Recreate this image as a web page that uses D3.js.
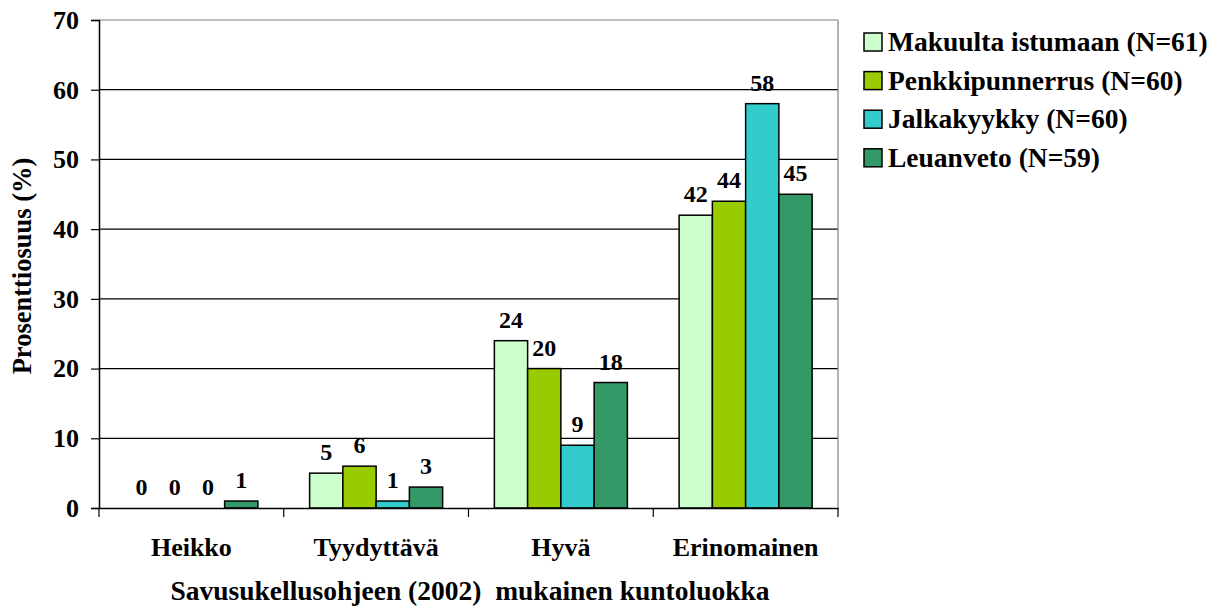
<!DOCTYPE html>
<html><head><meta charset="utf-8">
<script src="https://cdn.jsdelivr.net/npm/d3@7"></script>
<style>
svg text, #c text { font-family: "Liberation Serif", serif !important; font-weight: bold !important; }
</style>
</head>
<body style="margin:0;background:#fff">
<svg id="c" width="1219" height="609" font-family="Liberation Serif" font-weight="bold"></svg>
<script>
const categories = ["Heikko","Tyydyttävä","Hyvä","Erinomainen"];
const seriesNames = ["Makuulta istumaan (N=61)","Penkkipunnerrus (N=60)","Jalkakyykky (N=60)","Leuanveto (N=59)"];
const makuulta = [0,5,24,42];
const penkki = [0,6,20,44];
const jalka = [0,1,9,58];
const leuan = [1,3,18,45];
const colors = ["#CCFFCC","#99CC00","#33CCCC","#339966"];
const yTicks = [0,10,20,30,40,50,60,70];

const series = [makuulta,penkki,jalka,leuan];
function sty(sel,size){ return sel.attr("font-family","Liberation Serif").attr("font-weight","bold").attr("font-size",size).attr("fill","#000")
  .style("font-family","'Liberation Serif', serif","important").style("font-size",size+"px","important"); }

const svg = d3.select("#c");
const L=99,R=838,T=20,B=508;
const x0 = d3.scaleBand().domain(categories).range([L,R]).paddingInner(0.28).paddingOuter(0.14);
const x1 = d3.scaleBand().domain(d3.range(4)).range([0,x0.bandwidth()]);
const y = d3.scaleLinear().domain([0,70]).range([B,T]);

// gridlines
svg.append("g").selectAll("line").data(yTicks.filter(d=>d>0)).join("line")
 .attr("x1",L).attr("x2",R).attr("y1",d=>y(d)).attr("y2",d=>y(d))
 .attr("stroke",d=>d===70?"#808080":"#000").attr("stroke-width",1.2);
svg.append("line").attr("x1",R).attr("x2",R).attr("y1",T).attr("y2",B).attr("stroke","#808080").attr("stroke-width",1.2);

// bars
const g = svg.append("g");
categories.forEach((c,ci)=>{
  series.forEach((s,si)=>{
    g.append("rect").attr("x",x0(c)+x1(si)).attr("y",y(s[ci])).attr("width",x1.bandwidth()).attr("height",B-y(s[ci]))
     .attr("fill",colors[si]).attr("stroke","#000").attr("stroke-width",1.5);
    sty(g.append("text").attr("x",x0(c)+x1(si)+x1.bandwidth()/2).attr("y",y(s[ci])-13)
     .attr("text-anchor","middle"),24).text(s[ci]);
  });
});

// y axis
const ya = svg.append("g").attr("transform",`translate(${L},0)`).call(d3.axisLeft(y).tickValues(yTicks).tickSize(8).tickPadding(12));
ya.attr("font-family","Liberation Serif");
ya.select(".domain").attr("stroke","#000").attr("stroke-width",1.5);
ya.selectAll(".tick line").attr("stroke","#000").attr("stroke-width",1.2);
sty(ya.selectAll("text"),26);

// x axis
const xa = svg.append("g").attr("transform",`translate(0,${B})`).call(d3.axisBottom(x0).tickSize(0).tickPadding(30));
xa.attr("font-family","Liberation Serif");
xa.select(".domain").attr("stroke","#000").attr("stroke-width",1.5);
sty(xa.selectAll("text"),26);
const bounds = categories.map(c=>x0(c)-x0.step()*x0.paddingInner()/2).concat([R]);
bounds[0]=L;
svg.append("g").selectAll("line").data(bounds).join("line")
 .attr("x1",d=>d).attr("x2",d=>d).attr("y1",B).attr("y2",B+9).attr("stroke","#000").attr("stroke-width",1.2);

// titles
sty(svg.append("text").attr("x",470).attr("y",600).attr("text-anchor","middle"),27.5)
 .text("Savusukellusohjeen (2002)\u00a0 mukainen kuntoluokka");
sty(svg.append("text").attr("transform","translate(31,266) rotate(-90)").attr("text-anchor","middle"),26.5)
 .text("Prosenttiosuus (%)");

// legend
const lg = svg.append("g");
seriesNames.forEach((n,i)=>{
  const cy = 42 + i*38.6;
  lg.append("rect").attr("x",864).attr("y",cy-9).attr("width",18).attr("height",18).attr("fill",colors[i]).attr("stroke","#000").attr("stroke-width",1.5);
  sty(lg.append("text").attr("x",888).attr("y",cy+9),27.5).text(n);
});
</script></body></html>
